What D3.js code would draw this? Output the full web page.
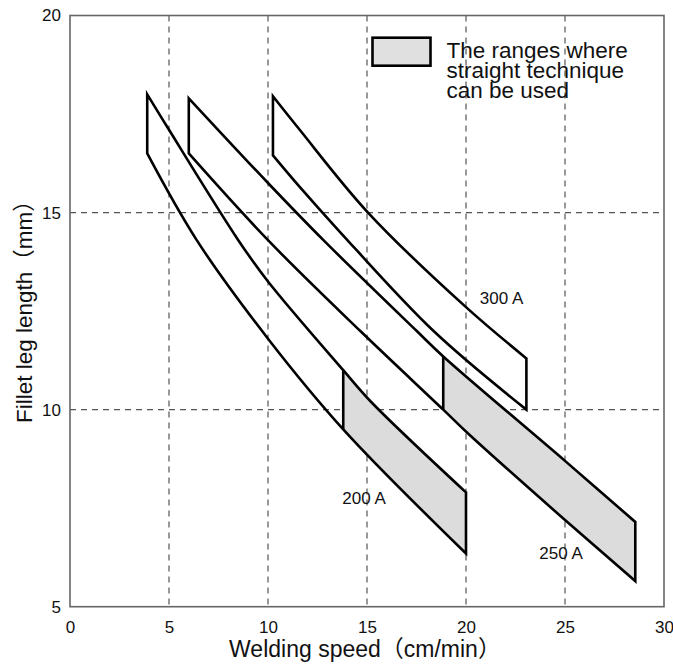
<!DOCTYPE html>
<html>
<head>
<meta charset="utf-8">
<script src="https://cdn.jsdelivr.net/npm/d3@7"></script>
<style>
  html, body { margin: 0; padding: 0; background: #fff; }
  svg { display: block; }
  text { font-family: "Liberation Sans", Arial, "Noto Sans CJK JP", sans-serif; fill: #111; }
</style>
</head>
<body>
<svg id="chart" width="673" height="671"></svg>
<script>
// ---- data ----
const speedTicks = [0, 5, 10, 15, 20, 25, 30];
const legTicks = [5, 10, 15, 20];
const seriesNames = ["200 A", "250 A", "300 A"];

// [welding speed (cm/min), fillet leg length (mm)]
const band200Upper = [[3.9, 18.0], [5.0, 17.1], [8.5, 14.3], [10.0, 13.25], [13.8, 11.0], [15.2, 10.2], [20.0, 7.9]];
const band200Lower = [[3.9, 16.5], [6.4, 14.3], [10.0, 11.8], [13.8, 9.5], [20.0, 6.35]];
const band250Upper = [[6.0, 17.9], [10.0, 15.75], [12.8, 14.3], [17.5, 12.0], [18.85, 11.35], [25.0, 8.7], [28.55, 7.15]];
const band250Lower = [[6.0, 16.5], [10.0, 14.3], [14.65, 12.0], [18.85, 10.0], [20.2, 9.35], [25.0, 7.2], [28.55, 5.65]];
const band300Upper = [[10.25, 17.95], [11.6, 17.1], [15.05, 15.0], [20.0, 12.6], [23.05, 11.3]];
const band300Lower = [[10.25, 16.45], [11.6, 15.65], [13.65, 14.5], [18.35, 12.0], [23.05, 10.0]];

// start of the "straight technique" range for each band (null = none)
const shadeStart = [13.8, 18.85, null];
// label anchor points [speed, leg]
const labelPos = [[13.75, 7.6], [23.7, 6.2], [20.7, 12.67]];
const legendLines = ["The ranges where", "straight technique", "can be used"];

// ---- layout ----
const margin = { left: 70, top: 15.5, right: 9, bottom: 64.3 };
const W = 673, H = 671;
const svg = d3.select("#chart");
const x = d3.scaleLinear().domain([0, 30]).range([margin.left, W - margin.right]);
const y = d3.scaleLinear().domain([5, 20]).range([H - margin.bottom, margin.top]);

// grid
const grid = svg.append("g").attr("stroke", "#555").attr("stroke-width", 1.2)
  .attr("stroke-dasharray", "6,5").attr("fill", "none");
speedTicks.filter(d => d > 0 && d < 30).forEach(d => {
  grid.append("line").attr("x1", x(d)).attr("x2", x(d)).attr("y1", y(20)).attr("y2", y(5));
});
legTicks.filter(d => d > 5 && d < 20).forEach(d => {
  grid.append("line").attr("x1", x(0)).attr("x2", x(30)).attr("y1", y(d)).attr("y2", y(d));
});

// axes (labels only, no tick marks)
const xAxis = d3.axisBottom(x).tickValues(speedTicks).tickSize(0).tickPadding(14).tickFormat(d3.format("d"));
const gx = svg.append("g").attr("transform", `translate(0,${y(5)})`).call(xAxis);
gx.select(".domain").remove();
gx.selectAll("text").attr("font-size", 17).attr("fill", "#111")
  .style("font-family", "'Liberation Sans', Arial, sans-serif");

const yAxis = d3.axisLeft(y).tickValues(legTicks).tickSize(0).tickPadding(9).tickFormat(d3.format("d"));
const gy = svg.append("g").attr("transform", `translate(${x(0)},0)`).call(yAxis);
gy.select(".domain").remove();
gy.selectAll("text").attr("font-size", 17).attr("fill", "#111")
  .style("font-family", "'Liberation Sans', Arial, sans-serif");

// frame
svg.append("rect").attr("x", x(0)).attr("y", y(20)).attr("width", x(30) - x(0)).attr("height", y(5) - y(20))
  .attr("fill", "none").attr("stroke", "#666").attr("stroke-width", 1.6);

// bands
const line = d3.line().x(d => x(d[0])).y(d => y(d[1])).curve(d3.curveCatmullRom.alpha(0.5));
const bands = [[band200Upper, band200Lower], [band250Upper, band250Lower], [band300Upper, band300Lower]];
const defs = svg.append("defs");

bands.forEach(([up, lo], i) => {
  const pathUp = line(up);
  const pathLoRev = line(lo.slice().reverse());
  const outline = pathUp + "L" + pathLoRev.slice(1) + "Z";
  const s = shadeStart[i];
  if (s !== null) {
    const xEnd = up[up.length - 1][0];
    const cid = "clip" + i;
    defs.append("clipPath").attr("id", cid).append("rect")
      .attr("x", x(s)).attr("y", 0).attr("width", x(xEnd) - x(s) + 2).attr("height", H);
    svg.append("path").attr("d", outline).attr("fill", "#dcdcdc").attr("stroke", "none")
      .attr("clip-path", `url(#${cid})`);
  }
  svg.append("path").attr("d", outline).attr("fill", "none").attr("stroke", "#000")
    .attr("stroke-width", 2.6).attr("stroke-linejoin", "miter");
  if (s !== null) {
    const pu = up.find(p => p[0] === s), pl = lo.find(p => p[0] === s);
    svg.append("line").attr("x1", x(s)).attr("x2", x(s)).attr("y1", y(pu[1])).attr("y2", y(pl[1]))
      .attr("stroke", "#000").attr("stroke-width", 2.6);
  }
  svg.append("text").attr("x", x(labelPos[i][0])).attr("y", y(labelPos[i][1]))
    .attr("font-size", 17).text(seriesNames[i]);
});

// legend
const lg = svg.append("g");
lg.append("rect").attr("x", 372.5).attr("y", 37.7).attr("width", 58).attr("height", 28)
  .attr("fill", "#e0e0e0").attr("stroke", "#000").attr("stroke-width", 2.6);
const lt = lg.append("text").attr("x", 446.5).attr("y", 58).attr("font-size", 22.5);
legendLines.forEach((t, k) => {
  lt.append("tspan").attr("x", 446.5).attr("dy", k === 0 ? 0 : 20).text(t);
});

// axis titles
svg.append("text").attr("x", (x(0) + x(30)) / 2 - 2).attr("y", 657).attr("text-anchor", "middle")
  .attr("font-size", 23).text("Welding speed（cm/min）");
svg.append("text").attr("transform", `translate(31.5,${(y(5) + y(20)) / 2 - 5}) rotate(-90)`)
  .attr("text-anchor", "middle").attr("font-size", 22.5).text("Fillet leg length（mm）");
</script>
</body>
</html>
